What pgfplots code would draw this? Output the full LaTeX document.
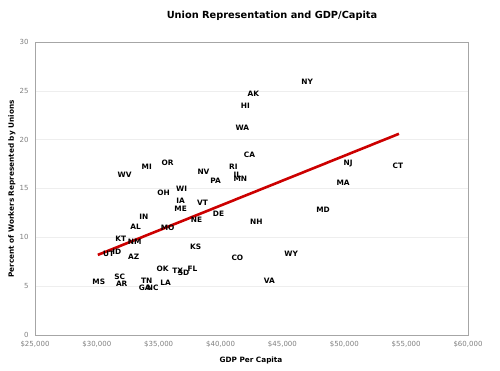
\documentclass[border=0pt]{standalone}
\usepackage{pgfplots}
\pgfplotsset{compat=1.18}
\usepackage{fontspec}
\setmainfont{DejaVu Sans}
\definecolor{gridc}{HTML}{EEEEEE}
\definecolor{framec}{HTML}{A6A6A6}
\definecolor{tickc}{HTML}{7F7F7F}
\definecolor{trend}{HTML}{CC0000}
\pgfplotstableread{
x y lab
47000 25.9 NY
42650 24.7 AK
42000 23.5 HI
41760 21.2 WA
42330 18.4 CA
41040 17.2 RI
41360 16.4 IL
41600 16.0 MN
38620 16.7 NV
39590 15.8 PA
35720 17.6 OR
34030 17.2 MI
32250 16.4 WV
35400 14.6 OH
36850 15.0 WI
36770 13.7 IA
36770 12.9 ME
38540 13.5 VT
39830 12.4 DE
38060 11.8 NE
42890 11.6 NH
48290 12.8 MD
50310 17.6 NJ
54340 17.3 CT
49900 15.6 MA
33790 12.1 IN
33140 11.1 AL
35720 11.0 MO
31930 9.9 KT
33060 9.5 NM
30960 8.3 UT
31610 8.5 ID
32980 8.0 AZ
37980 9.0 KS
41360 7.9 CO
45710 8.3 WY
35320 6.8 OK
36530 6.6 TX
37010 6.4 SD
37730 6.8 FL
31850 6.0 SC
30160 5.4 MS
32010 5.2 AR
34030 5.6 TN
33870 4.8 GA
34510 4.8 NC
35560 5.3 LA
43940 5.6 VA
}\states
\begin{document}
\begin{tikzpicture}[x=1pt,y=1pt]
\path[use as bounding box] (0,0) rectangle (500,371);
\begin{axis}[
  at={(35pt,36pt)}, anchor=south west,
  scale only axis, width=433pt, height=293pt,
  xmin=25000, xmax=60000, ymin=0, ymax=30,
  xtick={25000,30000,...,60000}, ytick={0,5,...,30},
  xticklabels={\$25{,}000,\$30{,}000,\$35{,}000,\$40{,}000,\$45{,}000,\$50{,}000,\$55{,}000,\$60{,}000},
  scaled x ticks=false,
  /pgf/number format/assume math mode=true,
  tick style={draw=none},
  ymajorgrids, grid style={gridc, line width=0.6pt},
  axis line style={framec, line width=0.9pt},
  tick label style={font=\fontsize{7}{8}\selectfont, text=tickc},
  xticklabel style={yshift=-3pt},
  yticklabel style={xshift=-3pt},
  clip=false,
]
\addplot[only marks, mark=none, nodes near coords, point meta=explicit symbolic,
  every node near coord/.style={anchor=center, font=\fontsize{7.4}{8}\selectfont\bfseries, text=black, inner sep=0pt}]
  table[x=x, y=y, meta=lab] {\states};
\addplot[trend, line width=2.6pt, no marks] coordinates {(30080,8.2) (54420,20.6)};
\end{axis}
\node[font=\fontsize{9.8}{11}\selectfont\bfseries] at (272,355) {Union Representation and GDP/Capita};
\node[font=\fontsize{7.3}{9}\selectfont\bfseries] at (251,11) {GDP Per Capita};
\node[font=\fontsize{7.3}{9}\selectfont\bfseries, rotate=90] at (12,182) {Percent of Workers Represented by Unions};
\end{tikzpicture}
\end{document}
